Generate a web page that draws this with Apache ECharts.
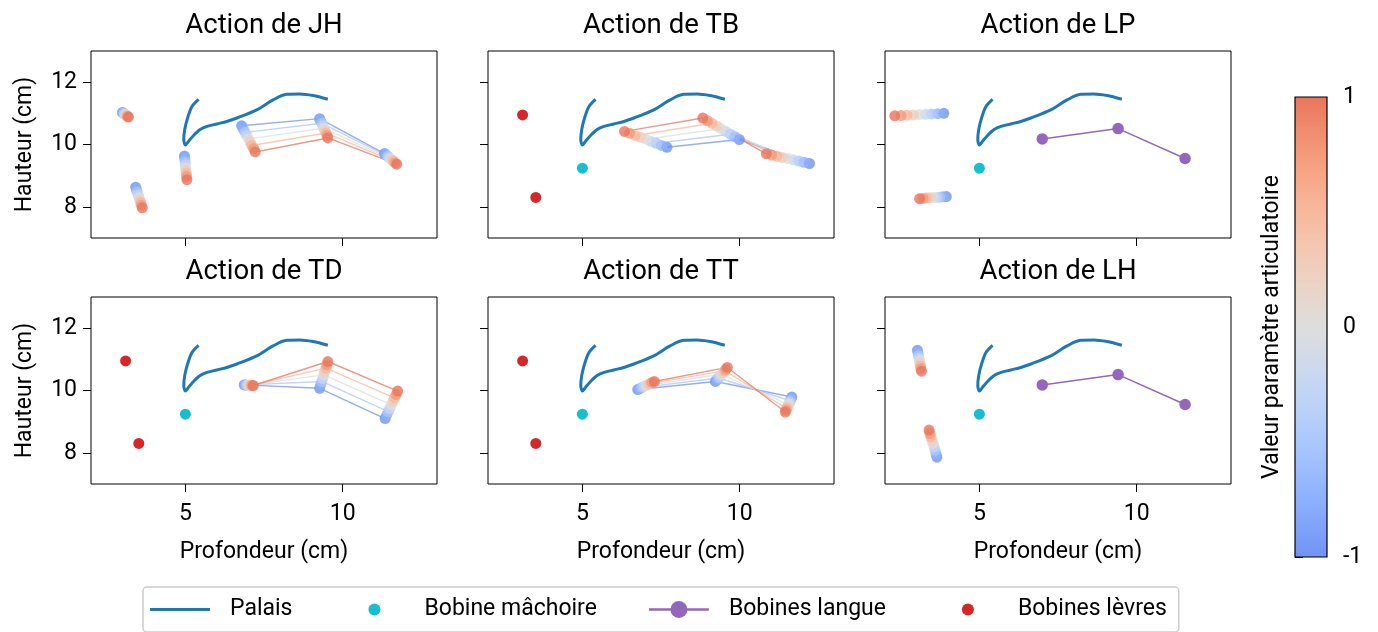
<!DOCTYPE html>
<html>
<head>
<meta charset="utf-8">
<script src="https://cdn.jsdelivr.net/npm/echarts@6/dist/echarts.min.js"></script>
<style>
  html, body { margin: 0; padding: 0; background: #fff; }
  #chart { width: 1378px; height: 632px; }
</style>
</head>
<body>
<div id="chart"></div>
<script>
// ---- data ----
const actions = ['JH', 'TB', 'LP', 'TD', 'TT', 'LH'];
const paramSteps = [-1, -0.75, -0.5, -0.25, 0, 0.25, 0.5, 0.75, 1];
const lineSteps = [-1, -0.5, 0, 0.5, 1];
const xTicks = [5, 10];
const yTicks = [8, 10, 12];
const cbarTicks = [-1, 0, 1];

const palateX = [5.42, 5.21, 5.07, 4.98, 4.95, 5.0, 5.10, 5.26, 5.47, 5.69, 6.0, 6.32, 6.64, 7.27, 7.79, 8.22, 8.64, 9.06, 9.53];
const palateY = [11.45, 11.22, 10.85, 10.48, 10.16, 9.98, 10.10, 10.29, 10.48, 10.58, 10.66, 10.74, 10.85, 11.11, 11.43, 11.61, 11.62, 11.57, 11.45];

// rest positions of the coils
const jawRest = [5.0, 9.24];
const lipsRestX = [3.10, 3.52];
const lipsRestY = [10.95, 8.30];
const tongueRestX = [7.0, 9.41, 11.54];
const tongueRestY = [10.18, 10.51, 9.55];

// moving coils: one row per coil, one column per paramSteps value
// JH rows: jaw, upper lip, lower lip, tongue 1-3
const jhX = [
  [4.97, 4.98, 4.99, 5.00, 5.01, 5.02, 5.03, 5.04, 5.05],
  [3.00, 3.02, 3.05, 3.07, 3.10, 3.12, 3.14, 3.17, 3.19],
  [3.42, 3.45, 3.47, 3.50, 3.53, 3.55, 3.58, 3.60, 3.63],
  [6.79, 6.84, 6.90, 6.95, 7.01, 7.06, 7.11, 7.17, 7.22],
  [9.27, 9.30, 9.34, 9.37, 9.40, 9.43, 9.47, 9.50, 9.53],
  [11.33, 11.38, 11.43, 11.48, 11.53, 11.57, 11.62, 11.67, 11.72]
];
const jhY = [
  [9.63, 9.54, 9.44, 9.35, 9.25, 9.16, 9.06, 8.97, 8.87],
  [11.03, 11.01, 11.00, 10.97, 10.96, 10.94, 10.92, 10.90, 10.88],
  [8.63, 8.55, 8.47, 8.38, 8.30, 8.22, 8.14, 8.05, 7.97],
  [10.60, 10.50, 10.39, 10.29, 10.18, 10.08, 9.97, 9.87, 9.76],
  [10.83, 10.75, 10.68, 10.60, 10.52, 10.44, 10.37, 10.29, 10.21],
  [9.71, 9.67, 9.63, 9.58, 9.54, 9.50, 9.46, 9.41, 9.37]
];
// TB rows: tongue 1-3
const tbX = [
  [7.69, 7.52, 7.35, 7.18, 7.02, 6.85, 6.68, 6.51, 6.34],
  [9.99, 9.85, 9.70, 9.56, 9.41, 9.27, 9.12, 8.98, 8.83],
  [12.22, 12.05, 11.88, 11.71, 11.54, 11.36, 11.19, 11.02, 10.85]
];
const tbY = [
  [9.91, 9.97, 10.04, 10.10, 10.17, 10.23, 10.29, 10.36, 10.42],
  [10.16, 10.25, 10.33, 10.42, 10.51, 10.59, 10.68, 10.76, 10.85],
  [9.39, 9.43, 9.47, 9.51, 9.55, 9.58, 9.62, 9.66, 9.70]
];
// LP rows: upper lip, lower lip
const lpX = [
  [3.87, 3.68, 3.48, 3.29, 3.09, 2.90, 2.70, 2.51, 2.31],
  [3.95, 3.84, 3.74, 3.63, 3.53, 3.42, 3.31, 3.21, 3.10]
];
const lpY = [
  [11.00, 10.99, 10.98, 10.97, 10.96, 10.95, 10.94, 10.93, 10.92],
  [8.33, 8.32, 8.31, 8.30, 8.30, 8.29, 8.28, 8.27, 8.26]
];
// TD rows: tongue 1-3
const tdX = [
  [6.87, 6.91, 6.94, 6.98, 7.02, 7.05, 7.09, 7.12, 7.16],
  [9.27, 9.30, 9.34, 9.37, 9.40, 9.43, 9.47, 9.50, 9.53],
  [11.35, 11.40, 11.45, 11.50, 11.55, 11.60, 11.65, 11.70, 11.75]
];
const tdY = [
  [10.18, 10.18, 10.18, 10.17, 10.17, 10.17, 10.17, 10.16, 10.16],
  [10.07, 10.18, 10.29, 10.39, 10.50, 10.61, 10.72, 10.82, 10.93],
  [9.10, 9.21, 9.32, 9.43, 9.54, 9.65, 9.76, 9.87, 9.98]
];
// TT rows: tongue 1-3
const ttX = [
  [6.76, 6.83, 6.89, 6.96, 7.03, 7.09, 7.16, 7.22, 7.29],
  [9.23, 9.28, 9.33, 9.37, 9.42, 9.47, 9.52, 9.56, 9.61],
  [11.66, 11.63, 11.61, 11.58, 11.56, 11.53, 11.50, 11.48, 11.45]
];
const ttY = [
  [10.03, 10.06, 10.10, 10.13, 10.16, 10.19, 10.23, 10.26, 10.29],
  [10.29, 10.35, 10.40, 10.46, 10.52, 10.57, 10.63, 10.68, 10.74],
  [9.79, 9.73, 9.67, 9.61, 9.55, 9.49, 9.43, 9.37, 9.31]
];
// LH rows: upper lip, lower lip
const lhX = [
  [3.03, 3.05, 3.06, 3.08, 3.10, 3.11, 3.13, 3.14, 3.16],
  [3.65, 3.62, 3.59, 3.56, 3.53, 3.49, 3.46, 3.43, 3.40]
];
const lhY = [
  [11.29, 11.21, 11.12, 11.04, 10.96, 10.87, 10.79, 10.70, 10.62],
  [7.86, 7.97, 8.08, 8.19, 8.30, 8.40, 8.51, 8.62, 8.73]
];

// ---- styling ----
const FONT = "Roboto, 'Noto Sans', sans-serif";
const FS = 23;      // labels, ticks, legend
const FS_TITLE = 27.5;
const C_PALATE = '#1f77b4';
const C_JAW = '#17becf';
const C_TONGUE = '#9467bd';
const C_LIPS = '#d62728';

// matplotlib coolwarm (Moreland), 33 samples
const COOLWARM = [
  [59,76,192],[68,90,204],[77,104,215],[87,117,225],[98,130,234],[108,142,241],[119,154,247],[130,165,251],
  [141,176,254],[152,185,255],[163,194,255],[174,201,253],[184,208,249],[194,213,244],[204,217,238],[213,219,230],
  [221,221,221],[229,216,209],[236,211,197],[241,204,185],[245,196,173],[247,187,160],[247,177,148],[247,166,135],
  [244,154,123],[241,141,111],[236,127,99],[229,112,88],[222,96,77],[213,80,66],[203,62,56],[192,40,47],[180,4,38]
];
function cmap(p, alpha) {
  const t = 1 / 6 + (p + 1) / 2 * (2 / 3);
  const f = t * (COOLWARM.length - 1);
  const i = Math.min(Math.floor(f), COOLWARM.length - 2);
  const u = f - i;
  const c = COOLWARM[i].map((v, k) => Math.round(v + (COOLWARM[i + 1][k] - v) * u));
  return 'rgba(' + c.join(',') + ',' + (alpha == null ? 1 : alpha) + ')';
}

const panels = [
  { x: jhX, y: jhY, jaw: 0, lips: [1, 2], tongue: [3, 4, 5] },
  { x: tbX, y: tbY, tongue: [0, 1, 2] },
  { x: lpX, y: lpY, lips: [0, 1] },
  { x: tdX, y: tdY, tongue: [0, 1, 2] },
  { x: ttX, y: ttY, tongue: [0, 1, 2] },
  { x: lhX, y: lhY, lips: [0, 1] }
];

const gridLeft = [91, 488, 885];
const gridTop = [51, 297];
const GW = 346, GH = 187;
const DOT = 11;

const grids = [], xAxes = [], yAxes = [], titles = [], series = [];

function coloredScatter(i, panel, rows) {
  const data = [];
  paramSteps.forEach((p, k) => {
    rows.forEach(r => {
      data.push({ value: [panel.x[r][k], panel.y[r][k], p], itemStyle: { color: cmap(p) } });
    });
  });
  return {
    type: 'scatter', name: 'coils-' + actions[i], xAxisIndex: i, yAxisIndex: i,
    symbolSize: DOT, data, z: 4, silent: true
  };
}

panels.forEach((panel, i) => {
  const row = Math.floor(i / 3), col = i % 3;
  grids.push({
    left: gridLeft[col], top: gridTop[row], width: GW, height: GH,
    show: true, borderColor: '#000', borderWidth: 1, backgroundColor: '#fff'
  });
  xAxes.push({
    type: 'value', gridIndex: i, min: 2, max: 13,
    axisLine: { show: false }, splitLine: { show: false },
    axisTick: { show: true, customValues: xTicks, length: 8, lineStyle: { color: '#000' } },
    axisLabel: { show: row === 1, customValues: xTicks, fontSize: FS, color: '#000', margin: 19, fontFamily: FONT },
    name: row === 1 ? 'Profondeur (cm)' : '', nameLocation: 'middle', nameGap: 57,
    nameTextStyle: { fontSize: FS, color: '#000', fontFamily: FONT }
  });
  yAxes.push({
    type: 'value', gridIndex: i, min: 7, max: 13,
    axisLine: { show: false }, splitLine: { show: false },
    axisTick: { show: true, customValues: yTicks, length: 8, lineStyle: { color: '#000' } },
    axisLabel: { show: col === 0, customValues: yTicks, fontSize: FS, color: '#000', margin: 14, fontFamily: FONT },
    name: col === 0 ? 'Hauteur (cm)' : '', nameLocation: 'middle', nameGap: 54,
    nameTextStyle: { fontSize: FS, color: '#000', fontFamily: FONT }
  });
  titles.push({
    text: 'Action de ' + actions[i], left: gridLeft[col] + GW / 2, top: gridTop[row] - 39,
    textAlign: 'center', padding: 0,
    textStyle: { fontSize: FS_TITLE, fontWeight: 'normal', color: '#000', fontFamily: FONT }
  });

  // palate
  series.push({
    type: 'line', name: 'Palais', xAxisIndex: i, yAxisIndex: i, symbol: 'none', smooth: 0.3,
    data: palateX.map((x, k) => [x, palateY[k]]),
    lineStyle: { color: C_PALATE, width: 3 }, itemStyle: { color: C_PALATE }, z: 3, silent: true
  });

  // jaw
  if (panel.jaw != null) {
    series.push(coloredScatter(i, panel, [panel.jaw]));
  } else {
    series.push({
      type: 'scatter', name: 'Bobine mâchoire', xAxisIndex: i, yAxisIndex: i, symbolSize: DOT,
      data: [jawRest], itemStyle: { color: C_JAW, opacity: 1 }, z: 4, silent: true
    });
  }

  // lips
  if (panel.lips) {
    series.push(coloredScatter(i, panel, panel.lips));
  } else {
    series.push({
      type: 'scatter', name: 'Bobines lèvres', xAxisIndex: i, yAxisIndex: i, symbolSize: DOT,
      data: lipsRestX.map((x, k) => [x, lipsRestY[k]]), itemStyle: { color: C_LIPS, opacity: 1 }, z: 4, silent: true
    });
  }

  // tongue
  if (panel.tongue) {
    lineSteps.forEach(p => {
      const k = paramSteps.indexOf(p);
      series.push({
        type: 'line', name: 'tongue-' + actions[i] + '-' + p, xAxisIndex: i, yAxisIndex: i, symbol: 'none',
        data: panel.tongue.map(r => [panel.x[r][k], panel.y[r][k]]),
        lineStyle: { color: cmap(p), width: 1.4, opacity: 0.75 }, z: 2, silent: true
      });
    });
    series.push(coloredScatter(i, panel, panel.tongue));
  } else {
    series.push({
      type: 'line', name: 'Bobines langue', xAxisIndex: i, yAxisIndex: i,
      symbol: 'circle', symbolSize: 11.5, showAllSymbol: true,
      data: tongueRestX.map((x, k) => [x, tongueRestY[k]]),
      lineStyle: { color: C_TONGUE, width: 1.5 }, itemStyle: { color: C_TONGUE, borderWidth: 0 }, z: 4, silent: true
    });
  }
});

// ---- colour bar ----
const CB = 6;
grids.push({ left: 1295, top: 97, width: 32, height: 460, show: false });
xAxes.push({ type: 'value', gridIndex: CB, min: 0, max: 1, show: false });
yAxes.push({
  type: 'value', gridIndex: CB, position: 'right', min: -1, max: 1,
  axisLine: { show: false }, splitLine: { show: false },
  axisTick: { show: true, customValues: cbarTicks, length: 8, lineStyle: { color: '#000' } },
  axisLabel: { show: true, customValues: cbarTicks, fontSize: FS, color: '#000', margin: 16, fontFamily: FONT }
});
yAxes.push({
  type: 'value', gridIndex: CB, position: 'left', min: -1, max: 1,
  axisLine: { show: false }, splitLine: { show: false }, axisTick: { show: false }, axisLabel: { show: false },
  name: 'Valeur paramètre articulatoire', nameLocation: 'middle', nameGap: 11, nameRotate: 90,
  nameTextStyle: { fontSize: FS, color: '#000', fontFamily: FONT }
});
const cbStops = [];
for (let k = 0; k <= 32; k++) cbStops.push({ offset: k / 32, color: cmap(1 - 2 * k / 32) });
series.push({
  type: 'custom', name: 'colorbar', xAxisIndex: CB, yAxisIndex: 6, silent: true,
  data: [[cbarTicks[0], cbarTicks[cbarTicks.length - 1]]],
  renderItem: (params, api) => {
    const a = api.coord([0, api.value(1)]);
    const b = api.coord([1, api.value(0)]);
    return {
      type: 'rect',
      shape: { x: a[0], y: a[1], width: b[0] - a[0], height: b[1] - a[1] },
      style: { fill: new echarts.graphic.LinearGradient(0, 0, 0, 1, cbStops), stroke: '#000', lineWidth: 1.2 }
    };
  }
});

// ---- legend icons (matplotlib-like handles) ----
function icon(inner) {
  const svg = '<svg xmlns="http://www.w3.org/2000/svg" width="75" height="20" viewBox="0 0 75 20">' + inner + '</svg>';
  return 'image://data:image/svg+xml;charset=utf-8,' + encodeURIComponent(svg);
}
const legendData = [
  { name: 'Palais', icon: icon('<line x1="0" y1="10" x2="60" y2="10" stroke="' + C_PALATE + '" stroke-width="3"/>') },
  { name: 'Bobine mâchoire', icon: icon('<circle cx="30" cy="10" r="6" fill="' + C_JAW + '"/>') },
  { name: 'Bobines langue', icon: icon('<line x1="0" y1="10" x2="60" y2="10" stroke="' + C_TONGUE + '" stroke-width="2.5"/><circle cx="30" cy="10" r="8.5" fill="' + C_TONGUE + '"/>') },
  { name: 'Bobines lèvres', icon: icon('<circle cx="30" cy="10" r="6" fill="' + C_LIPS + '"/>') }
];

const chart = echarts.init(document.getElementById('chart'), null, { renderer: 'canvas' });
chart.setOption({
  animation: false,
  backgroundColor: '#fff',
  textStyle: { fontFamily: FONT },
  title: titles,
  grid: grids,
  xAxis: xAxes,
  yAxis: yAxes,
  legend: {
    left: 143, top: 587, orient: 'horizontal',
    padding: [11, 12, 11, 7], itemGap: 52, itemWidth: 75, itemHeight: 20,
    borderColor: '#cccccc', borderWidth: 1.5, borderRadius: 4,
    selectedMode: false,
    textStyle: { fontSize: FS, color: '#000', fontFamily: FONT },
    data: legendData
  },
  series
});
</script>
</body>
</html>
